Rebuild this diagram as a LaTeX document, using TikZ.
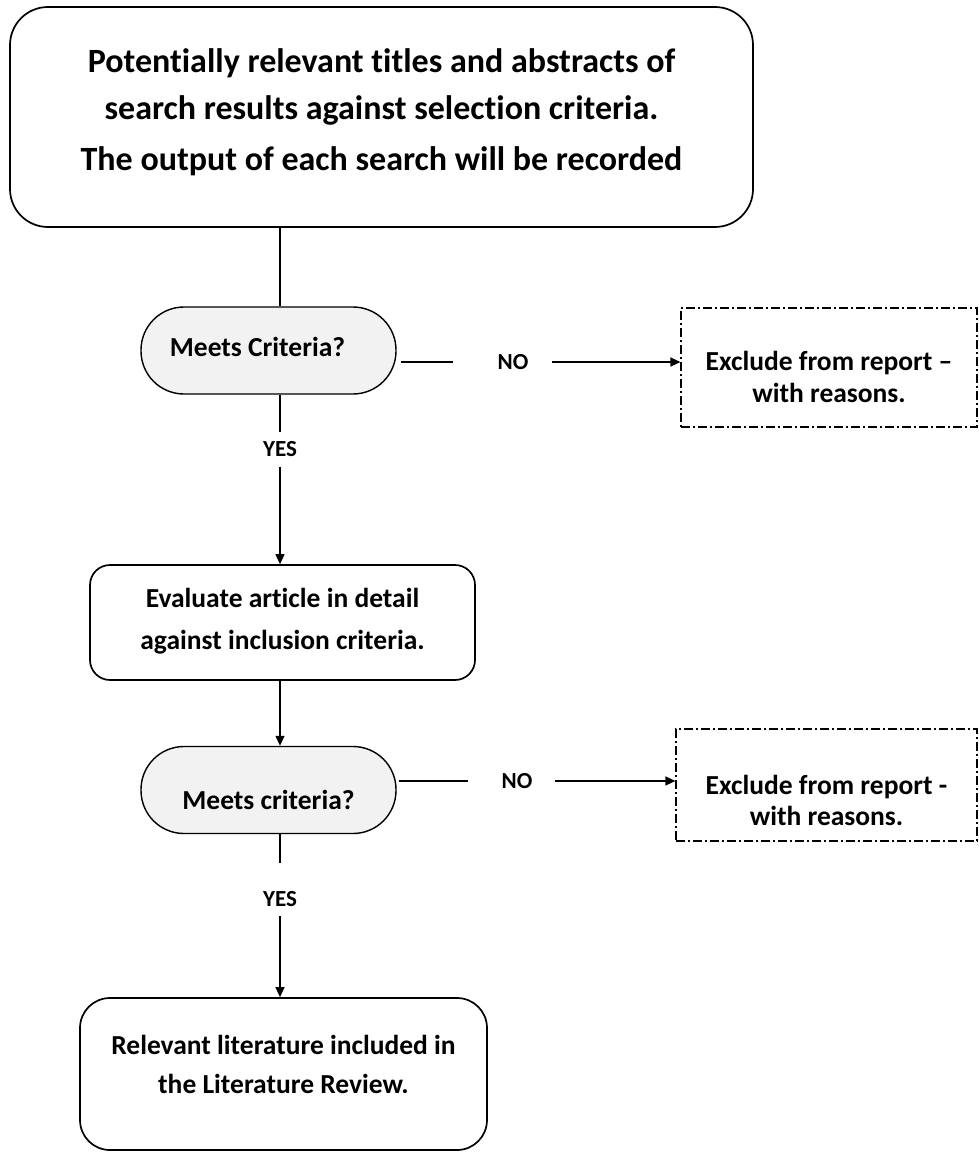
\documentclass[tikz,border=0pt]{standalone}
\usepackage{fontspec}
\setmainfont{Carlito}[Ligatures=NoCommon]
\usetikzlibrary{arrows.meta}
% centred lines moved up (positive) or down (negative) without changing the box size
\newcommand{\liftlines}[2]{\raisebox{#1}[\height][\depth]{\begin{tabular}{@{}c@{}}#2\end{tabular}}}
\tikzset{
  stagebox/.style={draw, line width=1.7pt, rounded corners=#1, align=center, inner sep=0pt},
  decision/.style={draw, line width=1.4pt, fill=black!5, rounded corners=43pt, align=center, inner sep=0pt,
    minimum width=255pt, minimum height=87pt, font=\bfseries\fontsize{27.5}{33}\selectfont},
  rejectbox/.style={draw, line width=1.2pt, dash pattern=on 9pt off 3pt on 2pt off 3pt, align=center, inner sep=0pt},
  answer/.style={font=\bfseries\fontsize{23}{26}\selectfont, inner sep=0pt},
  link/.style={line width=1.4pt},
  flow/.style={line width=1.4pt, -{Triangle[length=10pt,width=9pt]}}
}
\begin{document}
\begin{tikzpicture}[x=1pt,y=-1pt]
\useasboundingbox (0,0) rectangle (979,1153);

% screening stage
\node[stagebox=38pt, minimum width=743pt, minimum height=220pt,
      font=\bfseries\fontsize{34}{47}\selectfont] (screen) at (381.5,117)
  {\liftlines{4.5pt}{Potentially relevant titles and abstracts of\\ search results against selection criteria.\\[4pt]
   The output of each search will be recorded}};

% first decision
\node[decision] (crit1) at (268.5,350.5) {\raisebox{3.5pt}[\height][\depth]{Meets Criteria?\hspace*{22pt}}};
\node[rejectbox, minimum width=296pt, minimum height=119pt,
      font=\bfseries\fontsize{27.5}{32}\selectfont] (excl1) at (829,367.5)
  {\liftlines{-13pt}{Exclude from report –\\ with reasons.}};
\node[answer] (no1) at (513,362) {NO};
\node[answer] (yes1) at (280,449) {YES};

% detailed evaluation
\node[stagebox=20pt, minimum width=385pt, minimum height=115pt,
      font=\bfseries\fontsize{27.5}{42}\selectfont] (eval) at (282.5,622.5)
  {\liftlines{2.5pt}{Evaluate article in detail\\ against inclusion criteria.}};

% second decision
\node[decision] (crit2) at (268.5,790) {\raisebox{-10pt}[\height][\depth]{Meets criteria?}};
\node[rejectbox, minimum width=301pt, minimum height=112pt,
      font=\bfseries\fontsize{27.5}{31}\selectfont] (excl2) at (826.5,785)
  {\liftlines{-19pt}{Exclude from report -\\ with reasons.}};
\node[answer] (no2) at (517,781) {NO};
\node[answer] (yes2) at (280,899) {YES};

% result
\node[stagebox=30pt, minimum width=407pt, minimum height=152pt,
      font=\bfseries\fontsize{27.5}{39}\selectfont] (final) at (283.5,1074)
  {\liftlines{7.5pt}{Relevant literature included in\\ the Literature Review.}};

% main column
\draw[link] (screen.south -| yes1) -- (crit1.north -| yes1);
\draw[link] (crit1.south -| yes1) -- ([yshift=9pt]yes1.north);
\draw[flow] ([yshift=-10pt]yes1.south) -- (eval.north -| yes1);
\draw[flow] (eval.south -| yes1) -- (crit2.north -| yes1);
\draw[link] (crit2.south -| yes1) -- ++(0,29);
\draw[flow] ([yshift=-9pt]yes2.south) -- (final.north -| yes1);

% rejections
\draw[link] ([xshift=4pt]crit1.east |- no1) -- ([xshift=-44pt]no1.west);
\draw[flow] ([xshift=23pt]no1.east) -- (excl1.west |- no1);
\draw[link] ([xshift=2pt]crit2.east |- no2) -- ([xshift=-33pt]no2.west);
\draw[flow] ([xshift=22pt]no2.east) -- (excl2.west |- no2);
\end{tikzpicture}
\end{document}
